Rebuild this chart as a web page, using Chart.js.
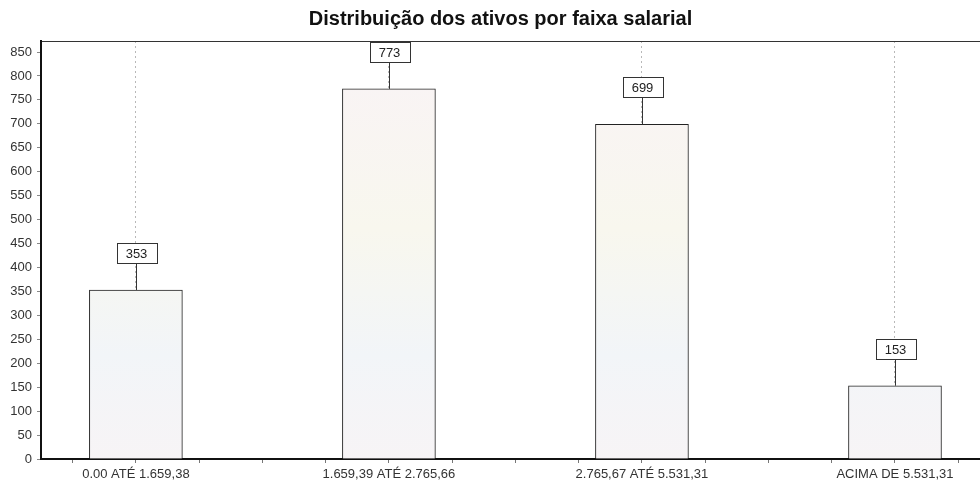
<!DOCTYPE html>
<html>
<head>
<meta charset="utf-8">
<script src="https://cdn.jsdelivr.net/npm/chart.js@4.4.1/dist/chart.umd.min.js"></script>
<style>
  html, body { margin: 0; padding: 0; background: #ffffff; overflow: hidden; }
  #wrap { width: 980px; height: 481px; overflow: hidden; }
</style>
</head>
<body>
<div id="wrap"><canvas id="c" width="980" height="481"></canvas></div>
<script>
const titleText = 'Distribuição dos ativos por faixa salarial';
const categories = ['0.00 ATÉ 1.659,38', '1.659,39 ATÉ 2.765,66', '2.765,67 ATÉ 5.531,31', 'ACIMA DE 5.531,31'];
const values = [353, 773, 699, 153];
const yTicks = [0, 50, 100, 150, 200, 250, 300, 350, 400, 450, 500, 550, 600, 650, 700, 750, 800, 850];
const xMinorTicks = [-0.25, 0, 0.25, 0.5, 0.75, 1, 1.25, 1.5, 1.75, 2, 2.25, 2.5, 2.75, 3, 3.25];

const FONT = '"Liberation Sans", Arial, sans-serif';

const dataPoints = values.map((v, i) => ({ x: i, y: v }));

function barGradient(ctx) {
  const chart = ctx.chart;
  const area = chart.chartArea;
  if (!area) return '#f5f4f2';
  const g = chart.ctx.createLinearGradient(0, area.top, 0, area.bottom);
  g.addColorStop(0, '#f9f3f6');
  g.addColorStop(0.45, '#f8f7ee');
  g.addColorStop(0.75, '#f2f5f8');
  g.addColorStop(1, '#f7f4f6');
  return g;
}

const valueLabels = {
  id: 'valueLabels',
  afterDatasetsDraw(chart) {
    const ctx = chart.ctx;
    const meta = chart.getDatasetMeta(0);
    ctx.save();
    ctx.font = '13px ' + FONT;
    ctx.textAlign = 'center';
    ctx.textBaseline = 'middle';
    meta.data.forEach((el, i) => {
      const txt = String(values[i]);
      const w = Math.round(ctx.measureText(txt).width) + 18;
      const h = 20;
      const cx = Math.round(el.x) + 0.5;
      const boxBottom = Math.round(el.y) - 27;
      const boxTop = boxBottom - h;
      ctx.strokeStyle = '#333';
      ctx.lineWidth = 1;
      ctx.beginPath();
      ctx.moveTo(cx, boxBottom);
      ctx.lineTo(cx, el.y);
      ctx.stroke();
      ctx.fillStyle = '#ffffff';
      ctx.fillRect(Math.round(cx - w / 2), boxTop, w, h);
      ctx.strokeRect(Math.round(cx - w / 2) + 0.5, boxTop + 0.5, w, h);
      ctx.fillStyle = '#222';
      ctx.fillText(txt, cx, boxTop + h / 2 + 1);
    });
    ctx.restore();
  }
};

new Chart(document.getElementById('c'), {
  type: 'bar',
  data: {
    datasets: [{
      data: dataPoints,
      backgroundColor: barGradient,
      borderColor: '#222',
      borderWidth: 1,
      borderSkipped: 'start',
      barThickness: 93
    }]
  },
  options: {
    responsive: false,
    devicePixelRatio: 1,
    animation: false,
    layout: { padding: { left: 0, right: -21, top: 0, bottom: 0 } },
    plugins: {
      legend: { display: false },
      tooltip: { enabled: false },
      title: {
        display: true,
        text: titleText,
        fullSize: true,
        color: '#111',
        font: { family: FONT, size: 20, weight: 'bold' },
        padding: { top: 7, bottom: 10 }
      }
    },
    scales: {
      x: {
        type: 'linear',
        position: 'bottom',
        offset: false,
        min: -0.375,
        max: 3.336,
        afterBuildTicks: (axis) => { axis.ticks = xMinorTicks.map(v => ({ value: v })); },
        afterFit: (s) => { s.height = 22; s.paddingLeft = 0; s.paddingRight = 0; },
        ticks: {
          autoSkip: false,
          maxRotation: 0,
          minRotation: 0,
          padding: 4,
          color: '#333',
          font: { family: FONT, size: 13 },
          callback: (v) => Number.isInteger(v) ? categories[v] : ''
        },
        grid: {
          offset: false,
          drawOnChartArea: true,
          color: (c) => (c.tick && Number.isInteger(c.tick.value)) ? '#b8b8b8' : 'rgba(0,0,0,0)',
          tickColor: '#777',
          tickLength: 4,
          lineWidth: 1
        },
        border: { display: true, color: '#111', width: 2, dash: [2, 3] }
      },
      x2: {
        type: 'linear',
        position: 'top',
        display: true,
        offset: false,
        afterFit: (s) => { s.height = 0; },
        ticks: { display: false },
        grid: { display: false, drawTicks: false, offset: false },
        border: { display: true, color: '#333', width: 1 }
      },
      y: {
        type: 'linear',
        min: 0,
        max: 873,
        afterBuildTicks: (axis) => { axis.ticks = yTicks.map(v => ({ value: v })); },
        afterFit: (s) => { s.width = 41; },
        ticks: {
          padding: 5,
          color: '#333',
          font: { family: FONT, size: 13 }
        },
        grid: {
          drawOnChartArea: false,
          tickColor: '#888',
          tickLength: 4
        },
        border: { display: true, color: '#111', width: 2 }
      }
    }
  },
  plugins: [valueLabels]
});
</script>
</body>
</html>
